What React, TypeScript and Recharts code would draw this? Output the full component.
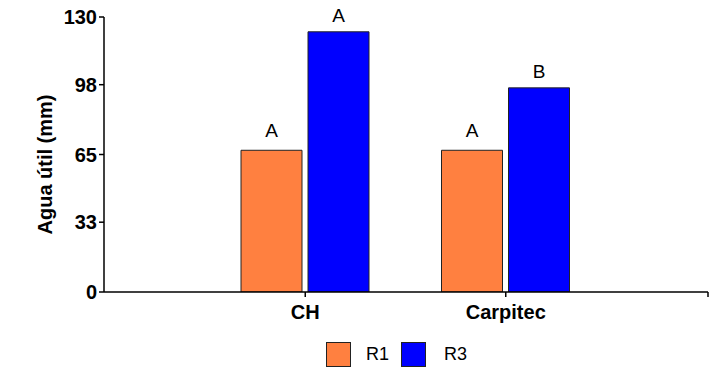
import React from 'react';
import { BarChart, Bar, XAxis, YAxis, Legend, LabelList } from 'recharts';

const categories = ['CH', 'Carpitec'];
const r1Values = [67, 67];
const r3Values = [123, 96.5];
const r1Letters = ['A', 'A'];
const r3Letters = ['A', 'B'];
const yTicks = [0, 33, 65, 98, 130];
const seriesNames = ['R1', 'R3'];
const seriesColors = ['#FF8040', '#0000FF'];
const yAxisTitle = 'Agua útil (mm)';

const data = categories.map((c, i) => ({
  name: c,
  R1: r1Values[i],
  R3: r3Values[i],
  l1: r1Letters[i],
  l3: r3Letters[i],
}));

const FONT = '"Liberation Sans", Arial, Helvetica, sans-serif';

const makeLetter = (offset: number) => (props: any) => {
  const { x, y, width, value } = props;
  return (
    <text
      x={Number(x) + Number(width) / 2}
      y={Number(y) - offset}
      textAnchor="middle"
      fontFamily={FONT}
      fontSize={19}
      fill="#000"
    >
      {value}
    </text>
  );
};

const LegendContent = () => (
  <div style={{ display: 'flex', alignItems: 'center', height: 25, fontFamily: FONT, fontSize: 18, color: '#000' }}>
    {seriesNames.map((n, i) => (
      <div key={n} style={{ display: 'flex', alignItems: 'center', marginRight: i === 0 ? 12 : 0 }}>
        <div style={{ width: 23, height: 23, background: seriesColors[i], border: '1px solid #222' }} />
        <span style={{ marginLeft: i === 0 ? 15 : 18, lineHeight: '25px' }}>{n}</span>
      </div>
    ))}
  </div>
);

export default function App() {
  return (
    <div style={{ position: 'absolute', left: 0, top: 0 }}>
      <BarChart
        width={715}
        height={367}
        data={data}
        margin={{ top: 17, right: 7, bottom: 0, left: 0 }}
        barSize={61}
        barGap={6}
      >
        <XAxis
          dataKey="name"
          height={50}
          padding={{ left: 101, right: 102 }}
          axisLine={{ stroke: '#000', strokeWidth: 1.5 }}
          tickLine={{ stroke: '#000', strokeWidth: 1.5 }}
          tickSize={5}
          tickMargin={8}
          tick={{ fill: '#000', fontFamily: FONT, fontSize: 20, fontWeight: 'bold' }}
          label={{
            content: (p: any) => {
              const vb = p.viewBox || {};
              const xe = Number(vb.x) + Number(vb.width);
              return <line x1={xe} y1={vb.y} x2={xe} y2={Number(vb.y) + 5} stroke="#000" strokeWidth={1.5} />;
            },
          }}
        />
        <YAxis
          width={104}
          domain={[0, 130]}
          ticks={yTicks}
          interval={0}
          allowDataOverflow
          axisLine={{ stroke: '#000', strokeWidth: 1.5 }}
          tickLine={{ stroke: '#000', strokeWidth: 1.5 }}
          tickSize={5}
          tickMargin={2}
          tick={{ fill: '#000', fontFamily: FONT, fontSize: 20, fontWeight: 'bold' }}
          label={{
            content: (p: any) => {
              const vb = p.viewBox || {};
              const cx = 45;
              const cy = Number(vb.y) + Number(vb.height) / 2 + 10;
              return (
                <text
                  x={cx}
                  y={cy}
                  transform={`rotate(-90, ${cx}, ${cy})`}
                  textAnchor="middle"
                  dominantBaseline="central"
                  fontFamily={FONT}
                  fontSize={20}
                  fontWeight="bold"
                  fill="#000"
                >
                  {yAxisTitle}
                </text>
              );
            },
          }}
        />
        <Legend
          verticalAlign="bottom"
          align="left"
          height={25}
          wrapperStyle={{ left: 326, width: 220, bottom: 0 }}
          content={LegendContent}
        />
        <Bar dataKey="R1" name={seriesNames[0]} fill={seriesColors[0]} stroke="#222" strokeWidth={1} isAnimationActive={false}>
          <LabelList dataKey="l1" content={makeLetter(13)} />
        </Bar>
        <Bar dataKey="R3" name={seriesNames[1]} fill={seriesColors[1]} stroke="#222" strokeWidth={1} isAnimationActive={false}>
          <LabelList dataKey="l3" content={makeLetter(10)} />
        </Bar>
      </BarChart>
    </div>
  );
}
